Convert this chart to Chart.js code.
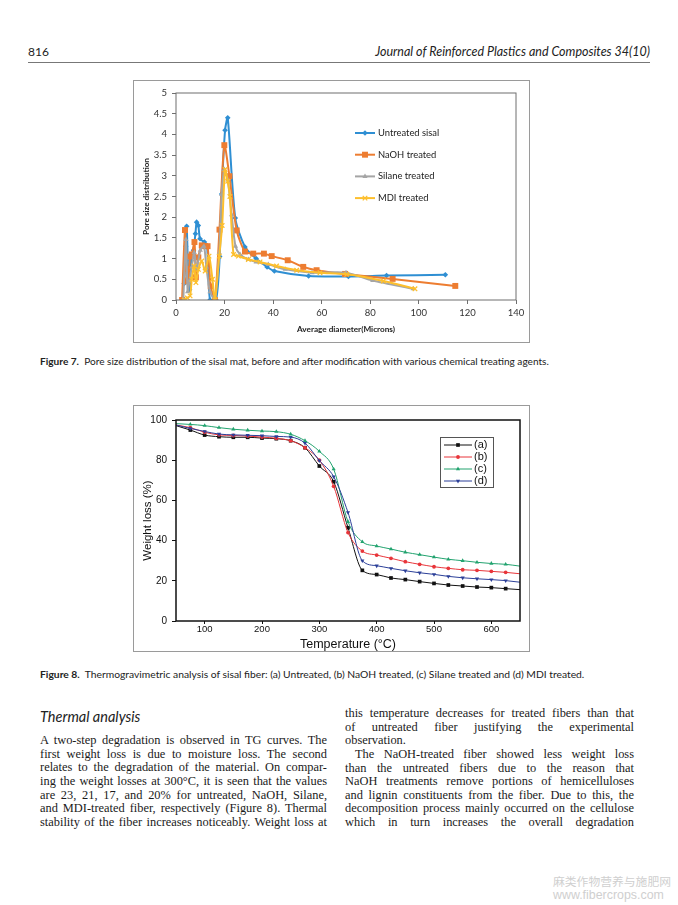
<!DOCTYPE html>
<html>
<head>
<meta charset="utf-8">
<script src="https://cdn.jsdelivr.net/npm/chart.js@4.4.1/dist/chart.umd.min.js"></script>
<style>
  html, body { margin: 0; padding: 0; background: #fff; }
  #page { position: relative; width: 678px; height: 905px; overflow: hidden; background: #fff; }
  .abs { position: absolute; white-space: nowrap; }
  .gill { font-family: Lato, "Noto Sans", sans-serif; color: #222; }
  .frame { position: absolute; border: 1px solid #9a9a9a; box-sizing: border-box; }
  canvas { position: absolute; }
  .col { position: absolute; font-family: "Liberation Serif", "DejaVu Serif", serif; font-size: 12.4px; line-height: 13.65px; color: #1a1a1a; }
  .col div { white-space: nowrap; height: 13.65px; }
  .j span { display: inline-block; }
</style>
</head>
<body>
<div id="page">
  <div class="abs gill" style="left:28px;top:44px;font-size:12px;">816</div>
  <div class="abs gill" style="right:28px;top:44px;font-size:12.5px;font-style:italic;">Journal of Reinforced Plastics and Composites 34(10)</div>
  <div class="abs" style="left:28px;top:62px;width:622px;height:1px;background:#777;"></div>

  <div class="frame" style="left:133px;top:80px;width:397px;height:263px;"></div>
  <canvas id="pore" width="397" height="263" style="left:133px;top:80px;"></canvas>

  <div class="abs gill" style="left:40px;top:355px;font-size:10.1px;"><b>Figure 7.</b>&nbsp; Pore size distribution of the sisal mat, before and after modification with various chemical treating agents.</div>

  <div class="frame" style="left:133px;top:405px;width:397px;height:247px;"></div>
  <canvas id="tga" width="397" height="247" style="left:133px;top:405px;"></canvas>

  <div class="abs gill" style="left:40px;top:668px;font-size:10.3px;"><b>Figure 8.</b>&nbsp; Thermogravimetric analysis of sisal fiber: (a) Untreated, (b) NaOH treated, (c) Silane treated and (d) MDI treated.</div>

  <div class="abs gill" style="left:40px;top:708px;font-size:14.5px;font-style:italic;">Thermal analysis</div>

  <div class="col" style="left:40px;top:734px;width:287px;">
    <div class="j"><span>A two-step degradation is observed in TG curves. The</span></div>
    <div class="j"><span>first weight loss is due to moisture loss. The second</span></div>
    <div class="j"><span>relates to the degradation of the material. On compar-</span></div>
    <div class="j"><span>ing the weight losses at 300°C, it is seen that the values</span></div>
    <div class="j"><span>are 23, 21, 17, and 20% for untreated, NaOH, Silane,</span></div>
    <div class="j"><span>and MDI-treated fiber, respectively (Figure 8). Thermal</span></div>
    <div class="j"><span>stability of the fiber increases noticeably. Weight loss at</span></div>
  </div>

  <div class="col" style="left:345px;top:707px;width:289px;">
    <div class="j"><span>this temperature decreases for treated fibers than that</span></div>
    <div class="j"><span>of untreated fiber justifying the experimental</span></div>
    <div><span>observation.</span></div>
    <div class="j" style="margin-left:10px;"><span>The NaOH-treated fiber showed less weight loss</span></div>
    <div class="j"><span>than the untreated fibers due to the reason that</span></div>
    <div class="j"><span>NaOH treatments remove portions of hemicelluloses</span></div>
    <div class="j"><span>and lignin constituents from the fiber. Due to this, the</span></div>
    <div class="j"><span>decomposition process mainly occurred on the cellulose</span></div>
    <div class="j"><span>which in turn increases the overall degradation</span></div>
  </div>

  <div class="abs" style="left:553px;top:872px;font-family:'Noto Sans CJK SC',sans-serif;font-size:11.8px;color:#cfcfcf;">麻类作物营养与施肥网</div>
  <div class="abs" style="left:553px;top:888px;font-family:'Liberation Sans',sans-serif;font-size:12.4px;color:#cfcfcf;">www.fibercrops.com</div>
</div>

<script>
// Figure 7 - pore size distribution
const diamTicks = [0, 20, 40, 60, 80, 100, 120, 140];
const poreTicks = [0, 0.5, 1, 1.5, 2, 2.5, 3, 3.5, 4, 4.5, 5];
const poreLabels = ['Untreated sisal', 'NaOH treated', 'Silane treated', 'MDI treated'];

const untreatedDiam = [3.4, 4.0, 4.4, 5.1, 5.6, 6.2, 7.2, 8.0, 8.5, 9.2, 9.9, 11.7, 12.8, 14.0, 16.5, 18.0, 18.8, 20.2, 21.3, 24.4, 28.4, 33.0, 37.5, 40.5, 54.6, 71.0, 86.7, 110.9];
const untreatedPore = [0.4, 1.3, 1.78, 0.5, 0.25, 0.95, 1.2, 1.6, 1.88, 1.8, 1.48, 1.4, 1.3, 0, 0, 1.05, 2.56, 4.1, 4.4, 1.98, 1.28, 1.0, 0.8, 0.7, 0.58, 0.57, 0.59, 0.61];

const naohDiam = [2.5, 3.7, 4.2, 4.6, 5.1, 5.8, 6.5, 7.6, 8.2, 9.2, 10.6, 12.0, 13.0, 14.3, 16.0, 17.9, 19.9, 22.0, 25.0, 28.4, 31.8, 36.2, 39.4, 46.0, 52.4, 57.9, 69.6, 89.2, 115.0];
const naohPore = [0, 1.69, 0.75, 0.45, 0.48, 1.05, 1.1, 1.4, 0.55, 1.03, 1.32, 1.3, 1.3, 0.33, 0, 1.7, 3.74, 2.99, 1.68, 1.17, 1.12, 1.12, 1.06, 0.96, 0.8, 0.72, 0.63, 0.51, 0.34];

const silaneDiam = [3.0, 4.1, 4.8, 5.5, 6.5, 7.5, 8.5, 10.0, 11.5, 12.5, 14.0, 16.0, 17.8, 18.8, 19.9, 21.3, 22.9, 24.5, 26.4, 29.8, 33.0, 38.0, 45.0, 56.0, 70.0, 81.0, 97.7];
const silanePore = [0, 1.46, 0.2, 0.45, 0.8, 1.15, 0.75, 1.2, 1.3, 0.8, 0.2, 0, 1.14, 2.55, 3.15, 2.9, 2.06, 1.3, 1.1, 0.98, 0.92, 0.86, 0.74, 0.66, 0.66, 0.47, 0.27];

const mdiDiam = [3.4, 4.7, 5.8, 6.5, 7.5, 8.2, 9.2, 10.6, 12.0, 13.6, 15.0, 16.0, 17.8, 19.0, 20.2, 21.3, 22.2, 23.7, 25.7, 29.8, 34.6, 41.4, 49.7, 59.3, 70.3, 85.4, 98.4];
const mdiPore = [0, 0.05, 0.1, 0.5, 0.82, 0.42, 0.74, 0.94, 0.7, 1.06, 0.5, 0, 1.06, 1.8, 3.15, 2.87, 2.5, 1.1, 1.06, 0.98, 0.92, 0.82, 0.72, 0.66, 0.62, 0.46, 0.27];

// Figure 8 - thermogravimetric curves
const temps = [50, 75, 100, 125, 150, 175, 200, 225, 250, 275, 300, 325, 350, 375, 400, 425, 450, 475, 500, 525, 550, 575, 600, 625, 650];
const tempTicks = [100, 200, 300, 400, 500, 600];
const weightTicks = [0, 20, 40, 60, 80, 100];
const tgLabels = ['(a)', '(b)', '(c)', '(d)'];
const lossA = [97.2, 95.0, 92.5, 91.7, 91.4, 91.4, 91.0, 90.7, 89.7, 86.2, 77.1, 69.3, 46.4, 25.2, 23.1, 21.4, 20.6, 19.6, 18.7, 17.9, 17.4, 16.9, 16.6, 16.1, 15.6];
const lossB = [97.5, 96.2, 93.9, 92.6, 92.3, 92.0, 91.5, 90.9, 89.7, 86.2, 80.0, 67.0, 44.0, 34.8, 32.8, 31.2, 29.5, 28.2, 27.0, 26.2, 25.5, 25.2, 24.7, 24.2, 23.5];
const lossC = [98.2, 97.8, 97.2, 96.2, 95.4, 94.9, 94.5, 94.2, 92.9, 89.7, 84.4, 75.6, 49.4, 39.4, 37.3, 35.8, 34.2, 33.0, 31.8, 30.7, 30.0, 29.2, 28.6, 28.2, 27.3];
const lossD = [97.5, 95.8, 94.3, 93.0, 92.6, 92.4, 92.2, 91.8, 91.5, 88.5, 79.8, 71.8, 54.0, 30.0, 27.5, 26.2, 25.0, 24.0, 23.2, 22.2, 21.5, 21.0, 20.6, 20.1, 19.3];

const pts = (xs, ys) => xs.map((x, i) => ({ x: x, y: ys[i] }));
const fixTicks = vals => scale => { scale.ticks = vals.map(v => ({ value: v })); };

// box around the plot area
const plotBox = {
  id: 'plotBox',
  afterDatasetsDraw(chart, args, o) {
    const { ctx, chartArea: a } = chart;
    ctx.save();
    ctx.strokeStyle = o.color;
    ctx.lineWidth = o.width;
    ctx.strokeRect(a.left, a.top, a.right - a.left, a.bottom - a.top);
    ctx.restore();
  }
};

// legend drawn at a fixed spot inside the plot
const spotLegend = {
  id: 'spotLegend',
  afterDraw(chart, args, o) {
    const ctx = chart.ctx;
    ctx.save();
    if (o.box) {
      ctx.strokeStyle = '#555';
      ctx.lineWidth = 1;
      ctx.strokeRect(o.box[0] + 0.5, o.box[1] + 0.5, o.box[2], o.box[3]);
    }
    chart.data.datasets.forEach((ds, i) => {
      const y = o.y + i * o.rowH;
      ctx.strokeStyle = ds.borderColor;
      ctx.lineWidth = ds.borderWidth;
      ctx.beginPath();
      ctx.moveTo(o.x, y);
      ctx.lineTo(o.x + o.lineLen, y);
      ctx.stroke();
      ctx.fillStyle = ds.pointBackgroundColor;
      ctx.strokeStyle = ds.pointBorderColor;
      ctx.lineWidth = ds.pointBorderWidth;
      Chart.helpers.drawPoint(ctx, {
        pointStyle: ds.pointStyle, radius: ds.markR, rotation: ds.pointRotation || 0,
        borderWidth: ds.pointBorderWidth
      }, o.x + o.lineLen / 2, y);
      ctx.fillStyle = o.color;
      ctx.font = o.font;
      ctx.textBaseline = 'middle';
      ctx.fillText(ds.label, o.x + o.lineLen + o.gap, y);
    });
    ctx.restore();
  }
};

const poreColors = ['#2f8fd3', '#ed7d31', '#a5a5a5', '#fdbf2d'];
const poreStyles = ['rectRot', 'rect', 'triangle', 'crossRot'];
const poreSizes = [2.8, 4.2, 3.0, 3.2];
const poreData = [
  pts(untreatedDiam, untreatedPore), pts(naohDiam, naohPore),
  pts(silaneDiam, silanePore), pts(mdiDiam, mdiPore)
];

new Chart(document.getElementById('pore'), {
  type: 'line',
  data: {
    datasets: poreData.map((d, i) => ({
      label: poreLabels[i],
      data: d,
      borderColor: poreColors[i],
      backgroundColor: poreColors[i],
      pointBackgroundColor: poreColors[i],
      pointBorderColor: poreColors[i],
      pointBorderWidth: i === 3 ? 1.3 : 0,
      pointStyle: poreStyles[i],
      pointRadius: poreSizes[i],
      markR: poreSizes[i],
      borderWidth: 2,
      tension: 0.25,
      order: 3 - i
    }))
  },
  options: {
    responsive: false,
    devicePixelRatio: 1,
    animation: false,
    layout: { padding: { top: 13, right: 14, left: 0, bottom: 0 } },
    plugins: {
      legend: { display: false },
      tooltip: { enabled: false },
      plotBox: { color: '#6f6f6f', width: 1 },
      spotLegend: { x: 222, y: 53, rowH: 21.7, lineLen: 20, gap: 3, color: '#222', font: '9.4px Lato' }
    },
    scales: {
      x: {
        type: 'linear', min: 0, max: 140,
        afterBuildTicks: fixTicks(diamTicks),
        afterFit: s => { s.height = 43; },
        grid: { drawOnChartArea: false, drawTicks: true, tickLength: 4, color: '#6f6f6f' },
        border: { display: false },
        ticks: { font: { family: 'Lato', size: 9.5 }, color: '#333', padding: 3, maxRotation: 0,
          callback: v => String(v) },
        title: { display: true, text: 'Average diameter(Microns)', color: '#222',
          font: { family: 'Lato', size: 8.2, weight: 'bold' }, padding: { top: 0, bottom: 9 } }
      },
      y: {
        min: 0, max: 5,
        afterBuildTicks: fixTicks(poreTicks),
        afterFit: s => { s.width = 43; },
        grid: { drawOnChartArea: false, drawTicks: true, tickLength: 4, color: '#6f6f6f' },
        border: { display: false },
        ticks: { font: { family: 'Lato', size: 9.5 }, color: '#333', padding: 5,
          callback: v => String(v) },
        title: { display: true, text: 'Pore size distribution', color: '#222',
          font: { family: 'Lato', size: 8.2, weight: 'bold' }, padding: { top: 8, bottom: 0 } }
      }
    }
  },
  plugins: [plotBox, spotLegend]
});

const tgColors = ['#111111', '#e8353a', '#22a36f', '#2b3f98'];
const tgStyles = ['rect', 'circle', 'triangle', 'triangle'];
const tgRot = [0, 0, 0, 180];
const tgSizes = [2.6, 1.9, 2.4, 2.4];
const tgData = [lossA, lossB, lossC, lossD];

new Chart(document.getElementById('tga'), {
  type: 'line',
  data: {
    datasets: tgData.map((ys, i) => ({
      label: tgLabels[i],
      data: pts(temps, ys),
      borderColor: tgColors[i],
      pointBackgroundColor: tgColors[i],
      pointBorderColor: tgColors[i],
      pointBorderWidth: 0,
      pointStyle: tgStyles[i],
      pointRotation: tgRot[i],
      pointRadius: c => (c.dataIndex === 0 || c.dataIndex === temps.length - 1) ? 0 : tgSizes[i],
      markR: tgSizes[i],
      borderWidth: 1,
      cubicInterpolationMode: 'monotone',
      order: 3 - i
    }))
  },
  options: {
    responsive: false,
    devicePixelRatio: 1,
    animation: false,
    layout: { padding: { top: 15, right: 10, left: 0, bottom: 0 } },
    plugins: {
      legend: { display: false },
      tooltip: { enabled: false },
      plotBox: { color: '#111', width: 1.5 },
      spotLegend: { x: 311, y: 40, rowH: 12, lineLen: 28, gap: 2, color: '#111',
        font: '11px "Liberation Sans"', box: [307, 32, 53, 50] }
    },
    scales: {
      x: {
        type: 'linear', min: 50, max: 650,
        afterBuildTicks: fixTicks(tempTicks),
        afterFit: s => { s.height = 31; },
        grid: { drawOnChartArea: false, drawTicks: true, tickLength: 3, color: '#111' },
        border: { display: false },
        ticks: { font: { family: 'Liberation Sans', size: 9.5 }, color: '#111', padding: 0, maxRotation: 0 },
        title: { display: true, text: 'Temperature (°C)', color: '#111',
          font: { family: 'Liberation Sans', size: 12.5 }, padding: { top: 0, bottom: 0 } }
      },
      y: {
        min: 0, max: 100,
        afterBuildTicks: fixTicks(weightTicks),
        afterFit: s => { s.width = 43; },
        grid: { drawOnChartArea: false, drawTicks: true, tickLength: 4, color: '#111' },
        border: { display: false },
        ticks: { font: { family: 'Liberation Sans', size: 10 }, color: '#111', padding: 5 },
        title: { display: true, text: 'Weight loss (%)', color: '#111',
          font: { family: 'Liberation Sans', size: 11.5 }, padding: { top: 8, bottom: 0 } }
      }
    }
  },
  plugins: [plotBox, spotLegend]
});

// justify each printed line to its column width
document.querySelectorAll('.j').forEach(el => {
  const span = el.firstElementChild;
  const target = el.getBoundingClientRect().width;
  const gaps = (span.textContent.match(/ /g) || []).length;
  const w = span.getBoundingClientRect().width;
  if (gaps) span.style.wordSpacing = ((target - w) / gaps) + 'px';
});
</script>
</body>
</html>
